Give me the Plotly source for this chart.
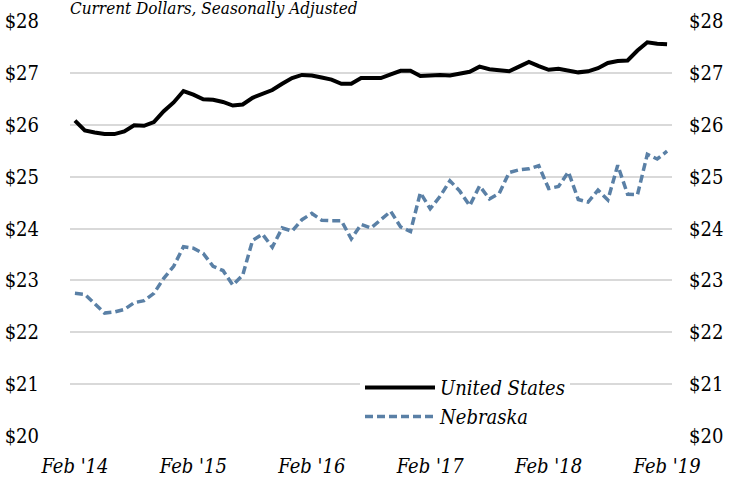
import pandas as pd
import plotly.graph_objects as go

months = [d.strftime("%Y-%m") for d in pd.date_range("2014-02-01", periods=61, freq="MS")]

us_wage = [26.08, 25.89, 25.85, 25.82, 25.82, 25.87, 25.99, 25.98, 26.05, 26.26,
           26.43, 26.65, 26.58, 26.49, 26.48, 26.44, 26.37, 26.39, 26.52, 26.59,
           26.67, 26.79, 26.90, 26.96, 26.95, 26.91, 26.87, 26.79, 26.79, 26.90,
           26.90, 26.90, 26.97, 27.04, 27.04, 26.94, 26.95, 26.96, 26.95, 26.98,
           27.02, 27.12, 27.07, 27.05, 27.03, 27.12, 27.21, 27.13, 27.06, 27.08,
           27.04, 27.01, 27.03, 27.09, 27.19, 27.23, 27.24, 27.43, 27.59, 27.56,
           27.55]

ne_wage = [22.75, 22.73, 22.55, 22.37, 22.39, 22.44, 22.57, 22.61, 22.75, 23.04,
           23.27, 23.65, 23.62, 23.52, 23.27, 23.19, 22.91, 23.10, 23.77, 23.89,
           23.64, 24.01, 23.95, 24.17, 24.29, 24.16, 24.15, 24.15, 23.80, 24.08,
           24.01, 24.17, 24.33, 24.03, 23.94, 24.69, 24.38, 24.62, 24.92, 24.72,
           24.44, 24.82, 24.57, 24.68, 25.08, 25.13, 25.15, 25.21, 24.77, 24.81,
           25.09, 24.56, 24.51, 24.74, 24.55, 25.22, 24.66, 24.65, 25.43, 25.34,
           25.49]

tick_months = ["2014-02", "2015-02", "2016-02", "2017-02", "2018-02", "2019-02"]
tick_labels = ["Feb '14", "Feb '15", "Feb '16", "Feb '17", "Feb '18", "Feb '19"]

NE_COLOR = "#5a80a6"
FONT = "DejaVu Serif Condensed, DejaVu Serif"

fig = go.Figure()
fig.add_trace(go.Scatter(x=months, y=ne_wage, name="Nebraska", mode="lines",
                         line=dict(color=NE_COLOR, width=3.5, dash="8px,4px"),
                         legendrank=2, yaxis="y2"))
fig.add_trace(go.Scatter(x=months, y=us_wage, name="United States", mode="lines",
                         line=dict(color="black", width=4), legendrank=1))

fig.update_layout(
    template="none",
    width=731, height=479,
    margin=dict(l=70, r=59, t=21, b=43, autoexpand=False),
    paper_bgcolor="white", plot_bgcolor="white",
    font=dict(family=FONT, size=20, color="black"),
    title=dict(text="Current Dollars, Seasonally Adjusted",
               font=dict(family=FONT, size=17, style="italic", color="black"),
               xref="container", x=70 / 731, xanchor="left",
               yref="container", y=1 - 8 / 479, yanchor="middle",
               automargin=False),
    xaxis=dict(type="category", range=[-0.5, 60.5], tickvals=tick_months,
               ticktext=tick_labels, showgrid=False, zeroline=False,
               showline=False, ticks="", automargin=False, ticklabelstandoff=16,
               tickfont=dict(family=FONT, size=20, style="italic", color="black")),
    yaxis=dict(range=[20, 28], dtick=1, tickprefix="$", showgrid=True,
               gridcolor="#d9d9d9", gridwidth=1.5, zeroline=False,
               showline=False, ticks="", ticklabelstandoff=30, automargin=False,
               tickfont=dict(family=FONT, size=20, color="black")),
    yaxis2=dict(range=[20, 28], dtick=1, tickprefix="$", overlaying="y",
                side="right", showgrid=False, zeroline=False, showline=False,
                ticks="", ticklabelstandoff=16, automargin=False,
                tickfont=dict(family=FONT, size=20, color="black")),
    legend=dict(x=(360 - 70) / 602, y=(436 - 368) / 415, xanchor="left",
                yanchor="top", bgcolor="white", borderwidth=0,
                font=dict(family=FONT, size=20, style="italic", color="black"),
                itemwidth=70, tracegroupgap=0),
    showlegend=True,
)
fig.write_html("out.html", config={"displayModeBar": False},
               post_script="document.body.style.margin='0';")
